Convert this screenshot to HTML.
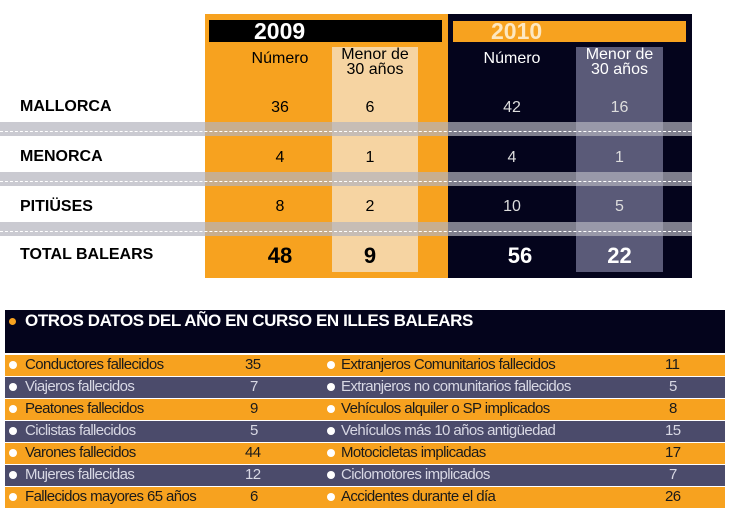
<!DOCTYPE html>
<html><head><meta charset="utf-8"><style>
*{margin:0;padding:0;box-sizing:border-box}
body{width:730px;height:500px;background:#fff;position:relative;overflow:hidden;font-family:"Liberation Sans",sans-serif}
.a{position:absolute}
.c{position:absolute;text-align:center;font-size:16px}
.lbl{position:absolute;left:20px;font-weight:bold;font-size:16px;color:#000}
.stripe{position:absolute;left:0;width:692px;height:14px;background:rgba(180,180,190,0.7)}
.dash{position:absolute;left:0;width:716px;border-top:1px dashed #fff}
.row{position:absolute;left:5px;width:720px;height:21px;font-size:15px;letter-spacing:-0.6px}
.o{background:#f7a21f;color:#1a1a1a}
.g{background:#4b4b6b;color:#d8d8e4}
.row span{position:absolute;top:1px}
.dot{position:absolute;top:6px;width:8px;height:8px;border-radius:50%;background:#fff}
</style></head><body>
<div class="a" style="left:205px;top:14px;width:243px;height:264px;background:#f7a21f"></div>
<div class="a" style="left:448px;top:14px;width:244px;height:264px;background:#04041c"></div>
<div class="a" style="left:209px;top:20px;width:233px;height:22px;background:#000"></div>
<div class="a" style="left:453px;top:21px;width:233px;height:21px;background:#f7a21f"></div>
<div class="a" style="left:254px;top:18px;color:#fff;font-weight:bold;font-size:23px">2009</div>
<div class="a" style="left:491px;top:18px;color:#fde7c0;font-weight:bold;font-size:23px">2010</div>
<div class="a" style="left:332px;top:47px;width:86px;height:225px;background:#f6d4a2"></div>
<div class="a" style="left:576px;top:47px;width:87px;height:225px;background:#5a5a78"></div>
<div class="stripe" style="top:122px"></div><div class="stripe" style="top:172px"></div><div class="stripe" style="top:222px"></div>
<div class="dash" style="top:131px"></div><div class="dash" style="top:181px"></div><div class="dash" style="top:231px"></div>
<div class="c" style="left:240px;width:80px;top:50px">Número</div>
<div class="c" style="left:332px;width:86px;top:47px;line-height:15px">Menor de<br>30 años</div>
<div class="c" style="left:472px;width:80px;top:50px;color:#fff">Número</div>
<div class="c" style="left:576px;width:87px;top:47px;line-height:15px;color:#fff">Menor de<br>30 años</div>
<div class="lbl" style="top:98px">MALLORCA</div>
<div class="lbl" style="top:148px">MENORCA</div>
<div class="lbl" style="top:198px">PITIÜSES</div>
<div class="lbl" style="top:246px">TOTAL BALEARS</div>
<div class="c" style="left:240px;width:80px;top:99px">36</div><div class="c" style="left:332px;width:76px;top:99px">6</div>
<div class="c" style="left:240px;width:80px;top:149px">4</div><div class="c" style="left:332px;width:76px;top:149px">1</div>
<div class="c" style="left:240px;width:80px;top:198px">8</div><div class="c" style="left:332px;width:76px;top:198px">2</div>
<div class="c" style="left:240px;width:80px;top:243px;font-size:22px;font-weight:bold">48</div><div class="c" style="left:332px;width:76px;top:243px;font-size:22px;font-weight:bold">9</div>
<div class="c" style="left:472px;width:80px;top:99px;color:#ddd">42</div><div class="c" style="left:576px;width:87px;top:99px;color:#ddd">16</div>
<div class="c" style="left:472px;width:80px;top:149px;color:#ddd">4</div><div class="c" style="left:576px;width:87px;top:149px;color:#ddd">1</div>
<div class="c" style="left:472px;width:80px;top:198px;color:#ddd">10</div><div class="c" style="left:576px;width:87px;top:198px;color:#ddd">5</div>
<div class="c" style="left:480px;width:80px;top:243px;font-size:22px;font-weight:bold;color:#fff">56</div><div class="c" style="left:576px;width:87px;top:243px;font-size:22px;font-weight:bold;color:#fff">22</div>

<div class="a" style="left:5px;top:310px;width:720px;height:43px;background:#04041c"></div>
<div class="a" style="left:9px;top:318px;width:7px;height:7px;border-radius:50%;background:#f7a21f"></div>
<div class="a" style="left:25px;top:311px;color:#fff;font-weight:bold;font-size:17px;letter-spacing:-0.4px">OTROS DATOS DEL AÑO EN CURSO EN ILLES BALEARS</div>

<div class="row o" style="top:355px"><i class="dot" style="left:4px"></i><span style="left:20px">Conductores fallecidos</span><span style="left:240px">35</span><i class="dot" style="left:322px"></i><span style="left:336px">Extranjeros Comunitarios fallecidos</span><span style="left:660px">11</span></div>
<div class="row g" style="top:377px"><i class="dot" style="left:4px"></i><span style="left:20px">Viajeros fallecidos</span><span style="left:245px">7</span><i class="dot" style="left:322px"></i><span style="left:336px">Extranjeros no comunitarios fallecidos</span><span style="left:664px">5</span></div>
<div class="row o" style="top:399px"><i class="dot" style="left:4px"></i><span style="left:20px">Peatones fallecidos</span><span style="left:245px">9</span><i class="dot" style="left:322px"></i><span style="left:336px">Vehículos alquiler o SP implicados</span><span style="left:664px">8</span></div>
<div class="row g" style="top:421px"><i class="dot" style="left:4px"></i><span style="left:20px">Ciclistas fallecidos</span><span style="left:245px">5</span><i class="dot" style="left:322px"></i><span style="left:336px">Vehículos más 10 años antigüedad</span><span style="left:660px">15</span></div>
<div class="row o" style="top:443px"><i class="dot" style="left:4px"></i><span style="left:20px">Varones fallecidos</span><span style="left:240px">44</span><i class="dot" style="left:322px"></i><span style="left:336px">Motocicletas implicadas</span><span style="left:660px">17</span></div>
<div class="row g" style="top:465px"><i class="dot" style="left:4px"></i><span style="left:20px">Mujeres fallecidas</span><span style="left:240px">12</span><i class="dot" style="left:322px"></i><span style="left:336px">Ciclomotores implicados</span><span style="left:664px">7</span></div>
<div class="row o" style="top:487px"><i class="dot" style="left:4px"></i><span style="left:20px">Fallecidos mayores 65 años</span><span style="left:245px">6</span><i class="dot" style="left:322px"></i><span style="left:336px">Accidentes durante el día</span><span style="left:660px">26</span></div>
</body></html>
